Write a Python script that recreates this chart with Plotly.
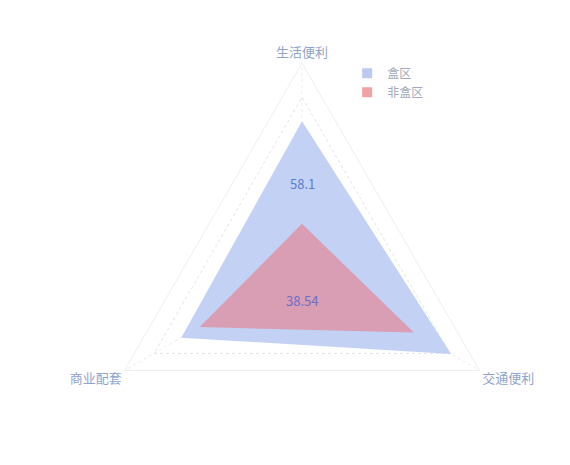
import plotly.graph_objects as go

# radar axes, clockwise from the top
categories = ["生活便利", "交通便利", "商业配套"]
series_names = ["盒区", "非盒区"]
box_values = [64.4, 75.6, 61.2]
nonbox_values = [19.4, 56.7, 51.8]
total_labels = ["58.1", "38.54"]
ring_values = [15, 30, 45, 60, 75]

fill_colors = ["rgba(190,205,243,0.92)", "rgba(219,152,174,0.92)"]
legend_colors = ["#bccaf2", "#f0a3a6"]
label_colors = ["#5a7fd0", "#6b6fc6"]

fig = go.Figure()

for name, vals, fc in zip(series_names, [box_values, nonbox_values], fill_colors):
    fig.add_trace(go.Scatterpolar(
        r=vals + vals[:1],
        theta=categories + categories[:1],
        mode="lines",
        fill="toself",
        fillcolor=fc,
        line=dict(width=0, color=fc),
        name=name,
        legendgroup=name,
        showlegend=False,
        hoverinfo="skip",
    ))

# legend swatches (small squares)
for name, lc in zip(series_names, legend_colors):
    fig.add_trace(go.Scatterpolar(
        r=[None],
        theta=categories[:1],
        mode="markers",
        marker=dict(symbol="square", size=10, color=lc),
        name=name,
        legendgroup=name,
        showlegend=True,
    ))

# value labels inside the shapes
for txt, col, yy in zip(total_labels, label_colors, [0.622, 0.37]):
    fig.add_annotation(
        x=0.516, y=yy, xref="paper", yref="paper",
        text=txt, showarrow=False,
        font=dict(size=13, color=col, family="Noto Sans CJK SC"),
    )

fig.update_layout(
    width=570,
    height=465,
    margin=dict(l=0, r=0, t=0, b=0),
    paper_bgcolor="white",
    plot_bgcolor="white",
    font=dict(family="Noto Sans CJK SC", size=13, color="#8fa4c9"),
    polar=dict(
        domain=dict(x=[0.1561, 0.8754], y=[0.0, 0.8817]),
        bgcolor="white",
        gridshape="linear",
        radialaxis=dict(
            range=[0, 90],
            tickvals=ring_values,
            showticklabels=False,
            ticks="",
            showline=False,
            gridcolor="#e4e4e4",
            griddash="dot",
            gridwidth=1,
            layer="below traces",
        ),
        angularaxis=dict(
            rotation=90,
            direction="clockwise",
            showline=True,
            linecolor="#eeeeee",
            linewidth=1,
            gridcolor="#ececec",
            griddash="dot",
            ticks="",
            tickfont=dict(size=13, color="#8fa4c9"),
            layer="below traces",
        ),
    ),
    legend=dict(
        x=0.595, y=0.891, xanchor="left", yanchor="top",
        font=dict(size=12, color="#a3a9bb"),
        itemwidth=30,
        tracegroupgap=0,
        bgcolor="rgba(0,0,0,0)",
    ),
)

fig.write_html("out.html")
